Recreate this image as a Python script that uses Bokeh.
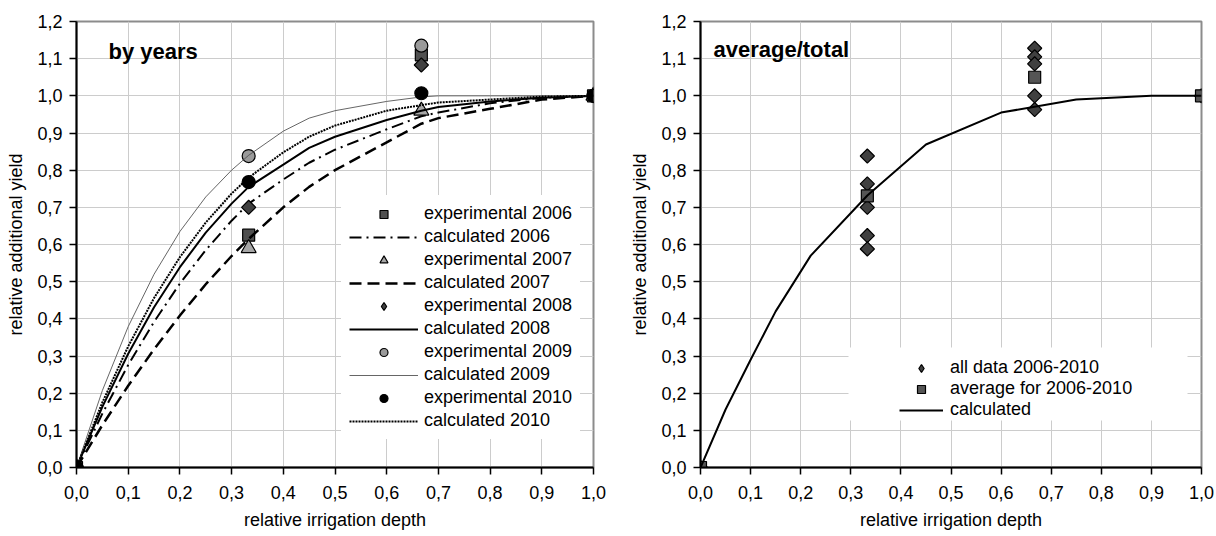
import math

from bokeh.plotting import figure
from bokeh.layouts import row
from bokeh.models import (Range1d, FixedTicker, CustomJSTickFormatter, Legend,
                          LegendItem, Label, BoxAnnotation)
from bokeh.embed import file_html
from bokeh.resources import INLINE

FONT = "Liberation Sans"

# ---- axis ticks ----
x_ticks = [0.0, 0.1, 0.2, 0.3, 0.4, 0.5, 0.6, 0.7, 0.8, 0.9, 1.0]
y_ticks = [0.0, 0.1, 0.2, 0.3, 0.4, 0.5, 0.6, 0.7, 0.8, 0.9, 1.0, 1.1, 1.2]

# ---- measured relative yields (by year) ----
exp_x = [0.0, 0.333, 0.667, 1.0]
exp_2006 = [0.0, 0.625, 1.11, 1.0]
exp_2007 = [0.0, 0.59, 0.96, 1.0]
exp_2008 = [0.0, 0.70, 1.083, 1.0]
exp_2009 = [0.0, 0.838, 1.135, 1.0]
exp_2010 = [0.0, 0.768, 1.007, 1.0]

# ---- calculated yield response curves (by year) ----
calc_x = [0.0, 0.05, 0.1, 0.15, 0.2, 0.25, 0.3, 0.333, 0.4, 0.45, 0.5, 0.6, 0.667, 0.7, 0.8, 0.9, 1.0]
calc_2006 = [0.0, 0.145, 0.276, 0.392, 0.495, 0.585, 0.664, 0.71, 0.775, 0.82, 0.855, 0.91, 0.945, 0.955, 0.98, 0.995, 1.0]
calc_2007 = [0.0, 0.114, 0.22, 0.318, 0.409, 0.493, 0.569, 0.615, 0.70, 0.755, 0.80, 0.875, 0.925, 0.94, 0.965, 0.99, 1.0]
calc_2008 = [0.0, 0.163, 0.306, 0.431, 0.539, 0.632, 0.71, 0.755, 0.815, 0.86, 0.89, 0.935, 0.96, 0.97, 0.985, 0.995, 1.0]
calc_2009 = [0.0, 0.207, 0.379, 0.52, 0.635, 0.728, 0.80, 0.84, 0.905, 0.94, 0.96, 0.985, 0.997, 1.0, 1.0, 1.0, 1.0]
calc_2010 = [0.0, 0.175, 0.326, 0.456, 0.566, 0.659, 0.737, 0.78, 0.848, 0.89, 0.92, 0.96, 0.975, 0.982, 0.99, 0.998, 1.0]

# ---- pooled data 2006-2010 ----
all_x = [0.0, 0.333, 0.333, 0.333, 0.333, 0.333, 0.667, 0.667, 0.667, 0.667, 0.667, 1.0]
all_y = [0.0, 0.838, 0.763, 0.70, 0.624, 0.588, 1.128, 1.105, 1.086, 1.0, 0.963, 1.0]
avg_x = [0.0, 0.333, 0.667, 1.0]
avg_y = [0.0, 0.731, 1.05, 1.0]
avg_calc_x = [0.0, 0.05, 0.1, 0.15, 0.22, 0.333, 0.45, 0.6, 0.75, 0.9, 1.0]
avg_calc_y = [0.0, 0.156, 0.29, 0.42, 0.57, 0.732, 0.869, 0.955, 0.99, 1.0, 1.0]


def make_figure(min_left, min_bottom):
    p = figure(width=608, height=536, output_backend="svg", toolbar_location=None,
               x_range=Range1d(0, 1.0), y_range=Range1d(0, 1.2),
               min_border_left=min_left, min_border_right=15,
               min_border_top=21, min_border_bottom=min_bottom)
    p.background_fill_color = "white"
    p.border_fill_color = "white"
    p.outline_line_color = "#8c8c8c"
    p.outline_line_width = 2
    fmt = "return tick.toFixed(1).replace('.', ',');"
    p.xaxis.ticker = FixedTicker(ticks=x_ticks)
    p.yaxis.ticker = FixedTicker(ticks=y_ticks)
    for ax in (p.xaxis[0], p.yaxis[0]):
        ax.formatter = CustomJSTickFormatter(code=fmt)
        ax.axis_line_color = "black"
        ax.axis_line_width = 2
        ax.major_tick_line_color = "black"
        ax.major_tick_line_width = 1.5
        ax.major_tick_out = 7
        ax.major_tick_in = 0
        ax.minor_tick_line_color = None
        ax.major_label_text_font = FONT
        ax.major_label_text_font_size = "18px"
        ax.major_label_text_color = "black"
        ax.axis_label_text_font = FONT
        ax.axis_label_text_font_size = "18px"
        ax.axis_label_text_font_style = "normal"
        ax.axis_label_text_color = "black"
    p.xaxis.axis_label = "relative irrigation depth"
    p.yaxis.axis_label = "relative additional yield"
    p.xaxis.major_label_standoff = 11
    p.yaxis.major_label_standoff = 7
    p.xaxis.axis_label_standoff = 8
    p.yaxis.axis_label_standoff = 8
    p.xgrid.grid_line_color = "#cccccc"
    p.ygrid.grid_line_color = "#cccccc"
    p.xgrid.grid_line_width = 1
    p.ygrid.grid_line_width = 1
    return p


def style_legend(leg, glyph_width, standoff, spacing, padding):
    leg.glyph_width = glyph_width
    leg.glyph_height = 20
    leg.label_height = 20
    leg.spacing = spacing
    leg.padding = padding
    leg.margin = 0
    leg.label_standoff = standoff
    leg.label_text_font = FONT
    leg.label_text_font_size = "18px"
    leg.label_text_color = "black"
    leg.border_line_alpha = 0


def diamonds(p, x, y):
    """Square-on-corner markers; a narrower 'diamond' glyph sits underneath
    (fully covered) and serves as the legend key."""
    key = p.scatter(x, y, marker="diamond", size=12, fill_color=DIAMOND_FILL,
                    line_color="black", line_width=1.2)
    p.scatter(x, y, marker="square", angle=math.pi / 4, size=10, fill_color=DIAMOND_FILL,
              line_color="black", line_width=1.2)
    return key


DIAMOND_FILL = "#404040"

# ---------------- left panel: by years ----------------
p1 = make_figure(76, 69)

s06 = p1.scatter(exp_x, exp_2006, marker="square", size=12, fill_color="#505050", line_color="black", line_width=1.2)
l06 = p1.line(calc_x, calc_2006, line_color="black", line_width=2, line_dash="12 5 2 5")
s07 = p1.scatter(exp_x, exp_2007, marker="triangle", size=15, fill_color="#a6a6a6", line_color="black", line_width=1.2)
l07 = p1.line(calc_x, calc_2007, line_color="black", line_width=2.5, line_dash="12 6")
s08 = diamonds(p1, exp_x, exp_2008)
l08 = p1.line(calc_x, calc_2008, line_color="black", line_width=2)
s09 = p1.scatter(exp_x, exp_2009, marker="circle", size=13, fill_color="#9a9a9a", line_color="black", line_width=1.2)
l09 = p1.line(calc_x, calc_2009, line_color="#555555", line_width=0.9)
s10 = p1.scatter(exp_x, exp_2010, marker="circle", size=13, fill_color="black", line_color="black", line_width=1.2)
l10 = p1.line(calc_x, calc_2010, line_color="black", line_width=2, line_dash="2 1")

leg1 = Legend(items=[
    LegendItem(label="experimental 2006", renderers=[s06]),
    LegendItem(label="calculated 2006", renderers=[l06]),
    LegendItem(label="experimental 2007", renderers=[s07]),
    LegendItem(label="calculated 2007", renderers=[l07]),
    LegendItem(label="experimental 2008", renderers=[s08]),
    LegendItem(label="calculated 2008", renderers=[l08]),
    LegendItem(label="experimental 2009", renderers=[s09]),
    LegendItem(label="calculated 2009", renderers=[l09]),
    LegendItem(label="experimental 2010", renderers=[s10]),
    LegendItem(label="calculated 2010", renderers=[l10]),
], location=(265, 28))
style_legend(leg1, 69, 6, 2, 8)
leg1.background_fill_color = "white"
leg1.background_fill_alpha = 1
p1.add_layout(leg1)

p1.add_layout(Label(x=32, y=416, x_units="screen", y_units="screen", text="by years",
                    text_font=FONT, text_font_size="22px", text_font_style="bold",
                    text_color="black", text_baseline="alphabetic"))

# ---------------- right panel: average/total ----------------
p2 = make_figure(92, 66)

sa = diamonds(p2, all_x, all_y)
sv = p2.scatter(avg_x, avg_y, marker="square", size=12, fill_color="#555555", line_color="black", line_width=1.2)
lc = p2.line(avg_calc_x, avg_calc_y, line_color="black", line_width=2)

p2.add_layout(BoxAnnotation(left=148, right=487, bottom=47, top=120,
                            left_units="screen", right_units="screen",
                            bottom_units="screen", top_units="screen",
                            fill_color="white", fill_alpha=1, line_alpha=0))

leg2 = Legend(items=[
    LegendItem(label="all data 2006-2010", renderers=[sa]),
    LegendItem(label="average for 2006-2010", renderers=[sv]),
    LegendItem(label="calculated", renderers=[lc]),
], location=(195, 43))
style_legend(leg2, 44, 7, 0, 4)
leg2.background_fill_alpha = 0
p2.add_layout(leg2)

p2.add_layout(Label(x=13, y=418, x_units="screen", y_units="screen", text="average/total",
                    text_font=FONT, text_font_size="22px", text_font_style="bold",
                    text_color="black", text_baseline="alphabetic"))

layout = row(p1, p2)
open("out.html", "w").write(file_html(layout, INLINE))
